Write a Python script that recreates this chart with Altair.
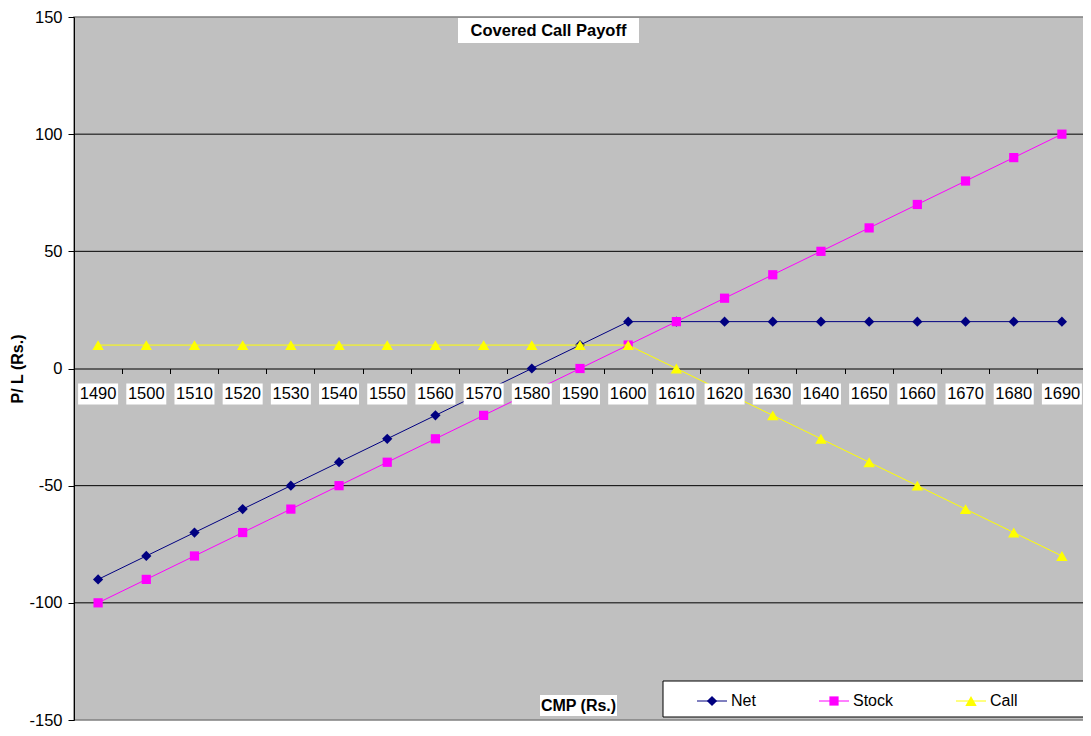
import altair as alt
import pandas as pd

cmp = [1490, 1500, 1510, 1520, 1530, 1540, 1550, 1560, 1570, 1580, 1590,
       1600, 1610, 1620, 1630, 1640, 1650, 1660, 1670, 1680, 1690]
net = [-90, -80, -70, -60, -50, -40, -30, -20, -10, 0, 10,
       20, 20, 20, 20, 20, 20, 20, 20, 20, 20]
stock = [-100, -90, -80, -70, -60, -50, -40, -30, -20, -10, 0,
         10, 20, 30, 40, 50, 60, 70, 80, 90, 100]
call = [10, 10, 10, 10, 10, 10, 10, 10, 10, 10, 10,
        10, 0, -10, -20, -30, -40, -50, -60, -70, -80]
series_names = ["Net", "Stock", "Call"]
series_colors = ["#000080", "#FF00FF", "#FFFF00"]
series_shapes = ["diamond", "square", "triangle-up"]
series_sizes = [105, 85, 130]
y_ticks = [-150, -100, -50, 0, 50, 100, 150]
grid_vals = [-100, -50, 50, 100]
title_text = "Covered Call Payoff"
x_title = "CMP (Rs.)"
y_title = "P/ L (Rs.)"

W, H = 1012, 703
FONT = "Liberation Sans"
U = H / 300.0  # pixels per data unit (for converting box heights)

xscale = alt.Scale(type="band", paddingInner=0, paddingOuter=0)
yscale = alt.Scale(domain=[-150, 150], nice=False, zero=False)

df_series = {"Net": net, "Stock": stock, "Call": call}

x_enc = alt.X("cmp:O", scale=xscale, sort=None,
              axis=alt.Axis(labels=False, title=None, offset=-H / 2,
                            bandPosition=0, domainColor="black", tickColor="black",
                            tickSize=5, domainWidth=1, grid=False))
y_axis = alt.Axis(values=y_ticks, grid=False, domainColor="black",
                  tickColor="black", tickSize=6, labelPadding=6,
                  labelFontSize=16.5, labelFont=FONT, labelColor="black",
                  labelExpr="'' + datum.value",
                  title=y_title, titleFont=FONT, titleFontSize=16,
                  titleFontWeight="bold", titleColor="black",
                  titleX=-57, titleY=H / 2, titleAlign="center",
                  titleBaseline="middle", titleAngle=-90)
y_enc = alt.Y("v:Q", scale=yscale, axis=y_axis)

grid = alt.Chart(pd.DataFrame({"v": grid_vals})).mark_rule(
    color="black", strokeWidth=1).encode(y=y_enc)

layers = [grid]
for name, col, shp, sz in zip(series_names, series_colors, series_shapes, series_sizes):
    d = pd.DataFrame({"cmp": cmp, "v": df_series[name]})
    ln = alt.Chart(d).mark_line(color=col, strokeWidth=1).encode(x=x_enc, y=y_enc)
    pt = alt.Chart(d).mark_point(shape=shp, filled=True, color=col, size=sz,
                                 opacity=1).encode(x=x_enc, y=y_enc)
    layers += [ln, pt]

# category label boxes just below the zero line
n = len(cmp)
lab_df = pd.DataFrame({"cmp": cmp, "lo": [-36 / U] * n, "hi": [-15 / U] * n,
                       "mid": [-25.5 / U] * n})
boxes = alt.Chart(lab_df).mark_bar(color="white", width=40).encode(
    x=x_enc, y=alt.Y("lo:Q", scale=yscale), y2="hi:Q")
labels = alt.Chart(lab_df).mark_text(font=FONT, fontSize=16.5, color="black",
                                     baseline="middle").encode(
    x=x_enc, y=alt.Y("mid:Q", scale=yscale), text="cmp:O")
layers += [boxes, labels]

# title box
one = pd.DataFrame({"a": [0]})
tbox = alt.Chart(one).mark_rect(color="white").encode(
    x=alt.value(384), x2=alt.value(565), y=alt.value(1), y2=alt.value(26))
ttxt = alt.Chart(one).mark_text(font=FONT, fontSize=16.5, fontWeight="bold",
                                color="black", baseline="middle").encode(
    x=alt.value(474.5), y=alt.value(14), text=alt.value(title_text))
xbox = alt.Chart(one).mark_rect(color="white").encode(
    x=alt.value(466), x2=alt.value(543), y=alt.value(H - 25), y2=alt.value(H - 4))
xtxt = alt.Chart(one).mark_text(font=FONT, fontSize=16, fontWeight="bold",
                                color="black", baseline="middle").encode(
    x=alt.value(504.5), y=alt.value(H - 14), text=alt.value(x_title))
layers += [tbox, ttxt, xbox, xtxt]

# legend
lbox = alt.Chart(one).mark_rect(fill="white", stroke="black", strokeWidth=1).encode(
    x=alt.value(589), x2=alt.value(1040), y=alt.value(H - 39), y2=alt.value(H - 3))
layers.append(lbox)
leg_x = [623, 745, 882]
LY = H - 19
for name, col, shp, sz, lx in zip(series_names, series_colors, series_shapes,
                                  series_sizes, leg_x):
    layers.append(alt.Chart(one).mark_rule(color=col, strokeWidth=1).encode(
        x=alt.value(lx), x2=alt.value(lx + 30), y=alt.value(LY)))
    layers.append(alt.Chart(one).mark_point(shape=shp, filled=True, color=col,
                                            size=sz, opacity=1).encode(
        x=alt.value(lx + 15), y=alt.value(LY)))
    layers.append(alt.Chart(one).mark_text(font=FONT, fontSize=16, color="black",
                                           align="left", baseline="middle").encode(
        x=alt.value(lx + 34), y=alt.value(LY), text=alt.value(name)))

chart = alt.layer(*layers).properties(
    width=W, height=H,
    autosize=alt.AutoSizeParams(type="none"),
    padding={"left": 66, "top": 9, "right": -3, "bottom": 8},
    background="white",
).configure_view(fill="#C0C0C0", stroke="#808080", strokeWidth=1.5)

chart.save("out.html", embed_options={"renderer": "svg", "actions": False})
